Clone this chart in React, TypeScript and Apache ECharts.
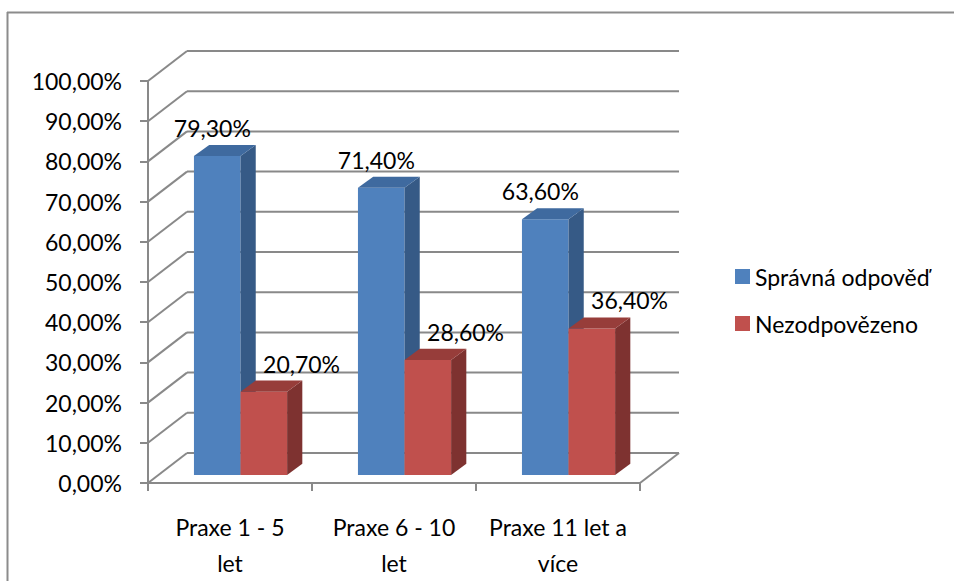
import React, { useEffect, useRef } from "react";
import * as echarts from "echarts";

const categories = ["Praxe 1 - 5\nlet", "Praxe 6 - 10\nlet", "Praxe 11 let a\nvíce"];
const seriesNames = ["Správná odpověď", "Nezodpovězeno"];
const correct = [0.793, 0.714, 0.636];
const unanswered = [0.207, 0.286, 0.364];
const yTicks = [0, 0.1, 0.2, 0.3, 0.4, 0.5, 0.6, 0.7, 0.8, 0.9, 1.0];

const FONT = "Lato, 'Open Sans', sans-serif";
const FONT_SIZE = 23;
const DX = 39;
const DY = -30;
const GRID_COLOR = "#898989";
const FRONT = ["#4f81bd", "#c0504d"];
const SIDE = ["#365a86", "#7e3230"];
const TOP = ["#3f6a9f", "#973d3a"];
const LABEL_SHIFT = [-0.03, 0.23];

const fmt = (v: number) => (v * 100).toFixed(2).replace(".", ",") + "%";

function frameItem(params: any, api: any) {
  const cs = params.coordSys;
  const v = api.value(1);
  const y = api.coord([0, v])[1];
  const x0 = cs.x;
  const x1 = cs.x + cs.width;
  const style = { stroke: GRID_COLOR, lineWidth: 2 };
  const children: any[] = [
    { type: "line", shape: { x1: x0, y1: y, x2: x0 + DX, y2: y + DY }, style },
    { type: "line", shape: { x1: x0 + DX, y1: y + DY, x2: x1 + DX, y2: y + DY }, style },
  ];
  if (v === 0) {
    children.push({ type: "line", shape: { x1: x1, y1: y, x2: x1 + DX, y2: y + DY }, style });
  }
  return { type: "group", children };
}

const makeBar = (si: number) => (params: any, api: any) => {
  const idx = api.value(0);
  const v = api.value(1);
  const band = api.size([1, 0])[0];
  const c = api.coord([idx, v]);
  const b = api.coord([idx, 0]);
  const bw = band * 0.284;
  const fx = DX * 0.27;
  const fy = DY * 0.27;
  const sx = DX * 0.39;
  const sy = DY * 0.37;
  const xl = c[0] + fx - bw + si * bw;
  const xr = xl + bw;
  const yt = c[1] + fy;
  const yb = b[1] + fy;
  return {
    type: "group",
    children: [
      { type: "rect", shape: { x: xl, y: yt, width: bw, height: yb - yt }, style: { fill: FRONT[si] } },
      {
        type: "polygon",
        shape: { points: [[xr, yt], [xr + sx, yt + sy], [xr + sx, yb + sy], [xr, yb]] },
        style: { fill: SIDE[si] },
      },
      {
        type: "polygon",
        shape: { points: [[xl, yt], [xl + sx, yt + sy], [xr + sx, yt + sy], [xr, yt]] },
        style: { fill: TOP[si] },
      },
      {
        type: "text",
        x: (xl + xr) / 2 + band * LABEL_SHIFT[si],
        y: yt + sy - 17,
        style: {
          text: fmt(v),
          fill: "#000",
          font: `${FONT_SIZE}px ${FONT}`,
          align: "center",
          verticalAlign: "middle",
        },
      },
    ],
  };
};

export default function App() {
  const ref = useRef<HTMLDivElement>(null);
  useEffect(() => {
    if (!ref.current) return;
    const chart = echarts.init(ref.current, undefined, { renderer: "svg" });
    const values = [correct, unanswered];
    chart.setOption({
      animation: false,
      backgroundColor: "#fff",
      textStyle: { fontFamily: FONT },
      grid: { left: 148, right: 314, top: 81, bottom: 96 },
      legend: {
        data: seriesNames,
        orient: "vertical",
        left: 730,
        top: 259,
        icon: "rect",
        itemWidth: 15,
        itemHeight: 15,
        itemGap: 22,
        textStyle: { fontSize: FONT_SIZE, fontFamily: FONT, color: "#000", lineHeight: 25 },
      },
      xAxis: {
        type: "category",
        data: categories,
        boundaryGap: true,
        axisLine: { lineStyle: { color: GRID_COLOR, width: 2 } },
        axisTick: { show: true, length: 8, interval: 0, lineStyle: { color: GRID_COLOR, width: 2 } },
        axisLabel: { fontSize: FONT_SIZE, fontFamily: FONT, color: "#000", lineHeight: 36, margin: 26, interval: 0 },
        splitLine: { show: false },
      },
      yAxis: {
        type: "value",
        min: 0,
        max: 1,
        interval: 0.1,
        axisLine: { show: true, lineStyle: { color: GRID_COLOR, width: 2 } },
        axisTick: { show: true, length: 8, lineStyle: { color: GRID_COLOR, width: 2 } },
        axisLabel: { formatter: fmt, fontSize: FONT_SIZE, fontFamily: FONT, color: "#000", margin: 26 },
        splitLine: { show: false },
      },
      graphic: [
        { type: "line", shape: { x1: 7, y1: 12.5, x2: 960, y2: 12.5 }, style: { stroke: "#8c8c8c", lineWidth: 2 } },
        { type: "line", shape: { x1: 7.5, y1: 12, x2: 7.5, y2: 590 }, style: { stroke: "#8c8c8c", lineWidth: 2 } },
      ],
      series: [
        {
          type: "custom",
          name: "frame",
          data: yTicks.map((v) => [0, v]),
          encode: { x: 0, y: 1 },
          renderItem: frameItem,
          clip: false,
          silent: true,
          z: 1,
        },
        ...seriesNames.map((name, si) => ({
          type: "custom",
          name,
          data: values[si].map((v, i) => [i, v]),
          encode: { x: 0, y: 1 },
          renderItem: makeBar(si),
          itemStyle: { color: FRONT[si] },
          clip: false,
          z: 2 + si,
        })),
      ],
    });
    return () => chart.dispose();
  }, []);
  return (
    <div
      ref={ref}
      style={{ position: "fixed", left: 0, top: 0, width: 954, height: 581, background: "#fff" }}
    />
  );
}
